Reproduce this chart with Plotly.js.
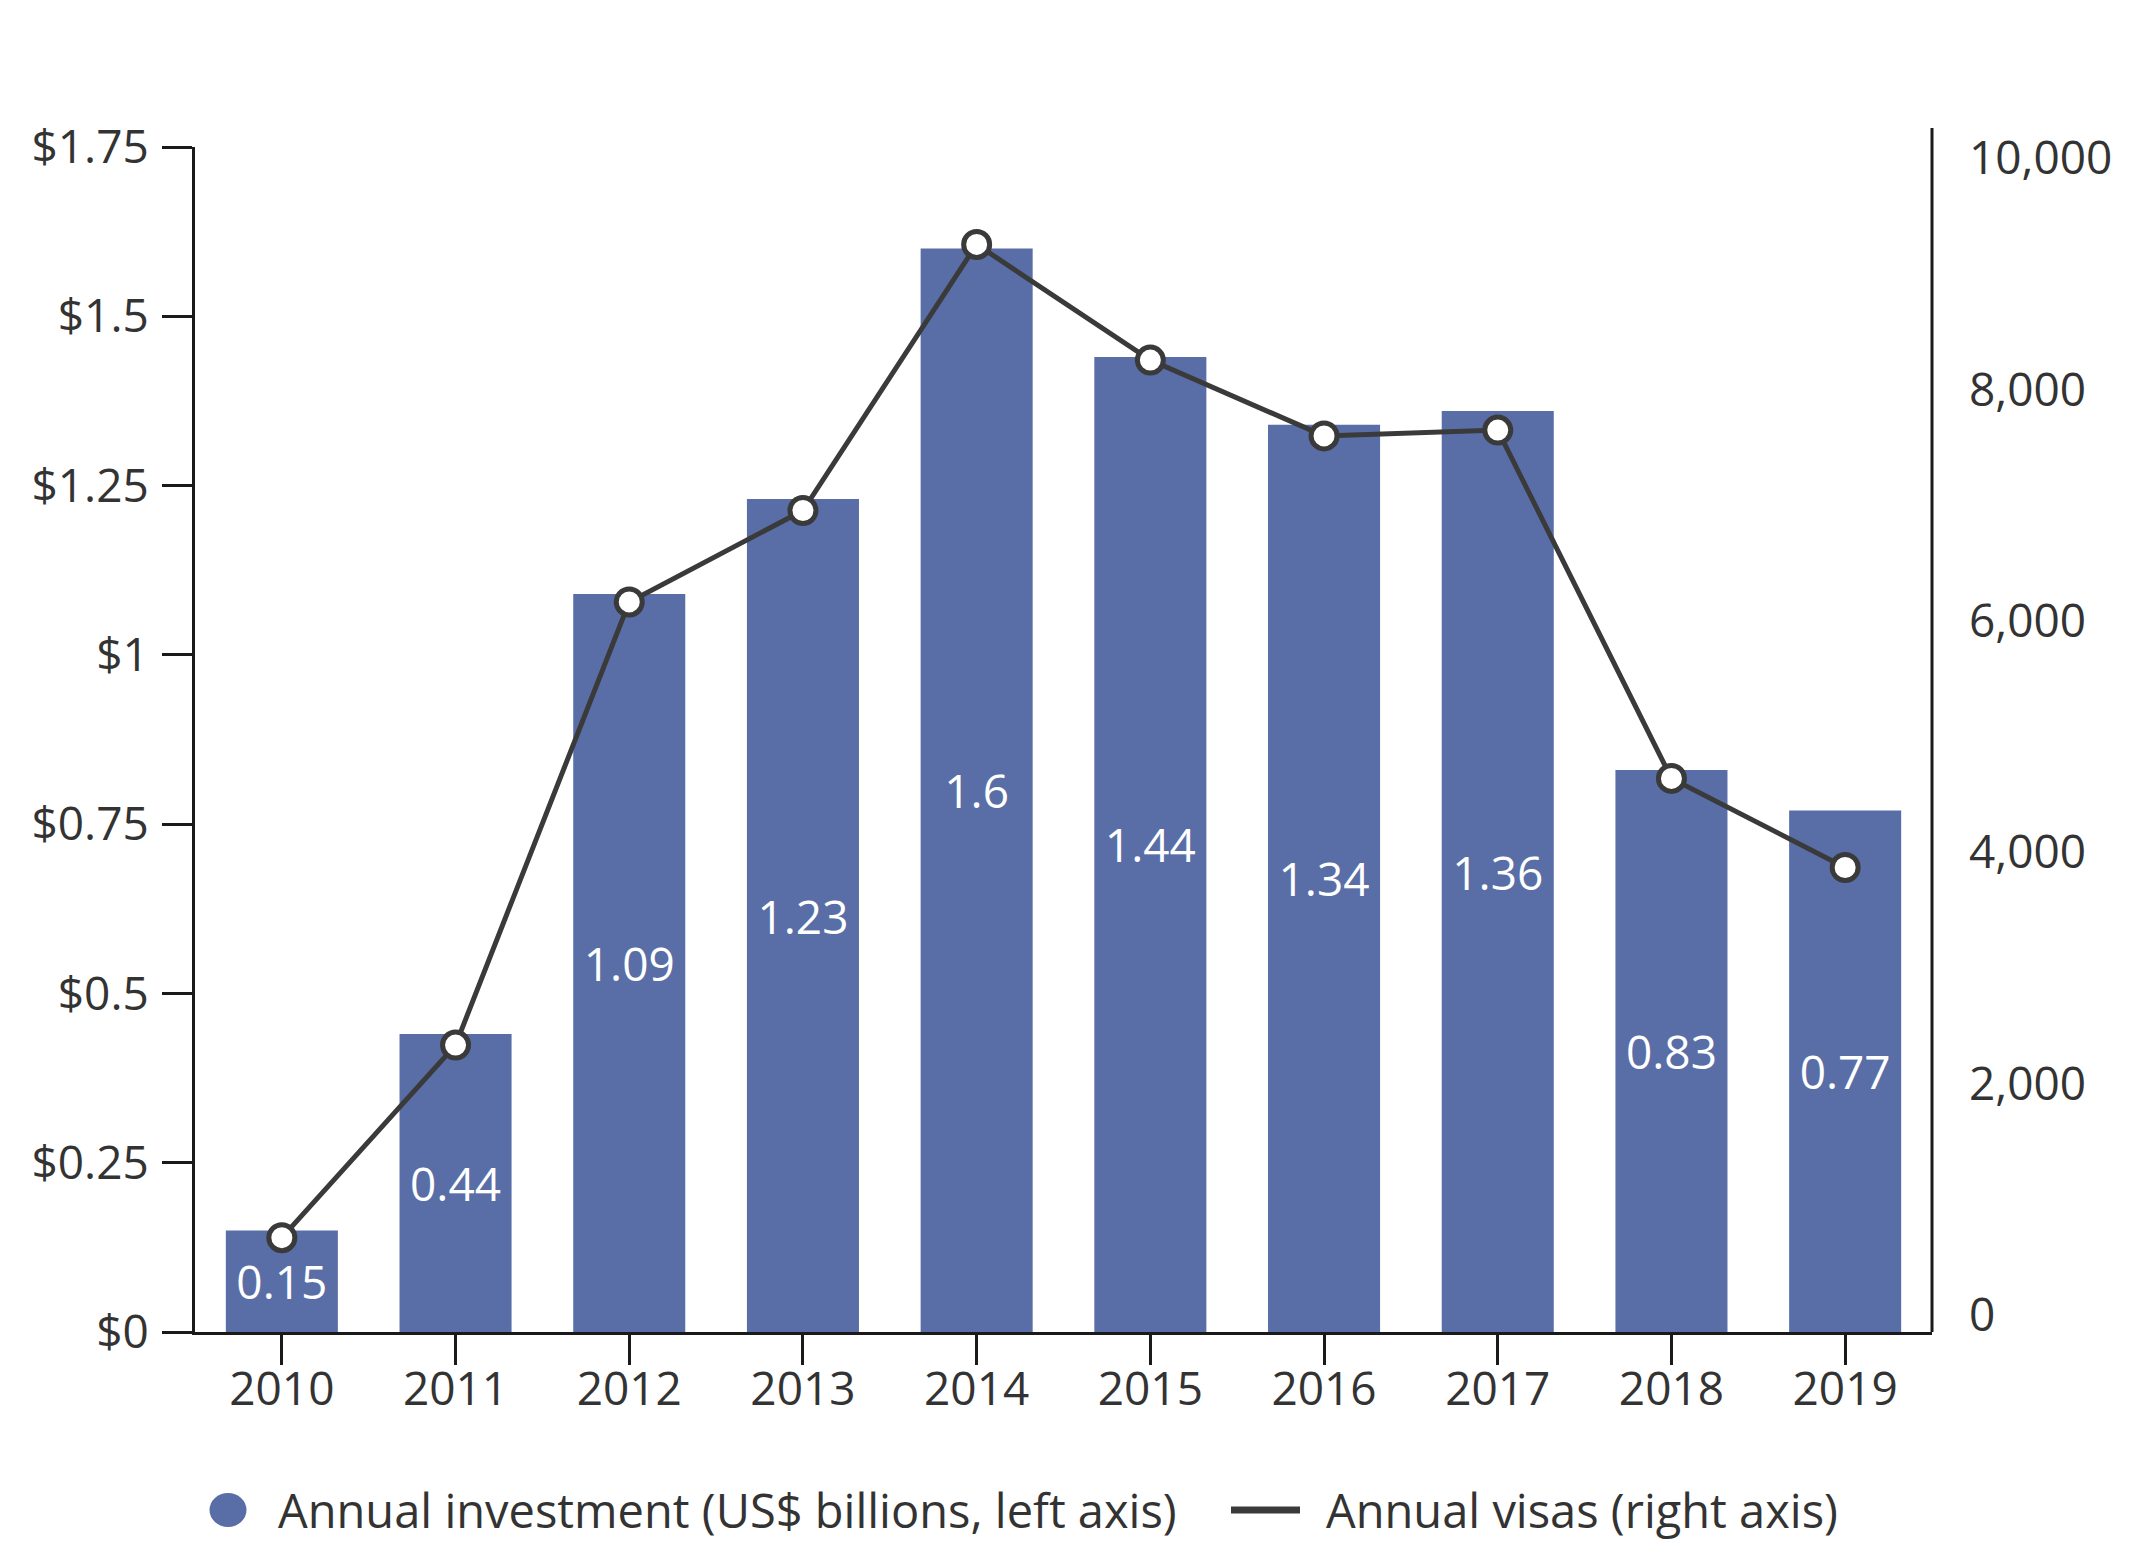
<!DOCTYPE html>
<html>
<head>
<meta charset="utf-8">
<script src="https://cdn.plot.ly/plotly-3.0.1.min.js"></script>
<style>html,body{margin:0;padding:0;background:#fff;}#chart{width:2156px;height:1562px;}</style>
</head>
<body>
<div id="chart"></div>
<script>
const years = ['2010','2011','2012','2013','2014','2015','2016','2017','2018','2019'];
const investment = [0.15, 0.44, 1.09, 1.23, 1.6, 1.44, 1.34, 1.36, 0.83, 0.77];
const investmentLabels = ['0.15','0.44','1.09','1.23','1.6','1.44','1.34','1.36','0.83','0.77'];
const visas = [815, 2480, 6310, 7100, 9400, 8400, 7745, 7795, 4785, 4015];
const leftTickVals = [0, 0.25, 0.5, 0.75, 1, 1.25, 1.5, 1.75];
const leftTickText = ['$0','$0.25','$0.5','$0.75','$1','$1.25','$1.5','$1.75'];
const rightTickVals = [0, 2000, 4000, 6000, 8000, 10000];
const rightTickText = ['0','2,000','4,000','6,000','8,000','10,000'];
const seriesNames = ['Annual investment (US$ billions, left axis)', 'Annual visas (right axis)'];

const BAR = '#596ea6';
const LINE = '#3a3a3a';
const AXIS = '#1a1a1a';
const TXT = '#333333';
const FONT = 'Open Sans, Noto Sans, sans-serif';

const W = 2156, H = 1562;
const M = {l: 195, r: 224, t: 147, b: 230};
const plotW = W - M.l - M.r, plotH = H - M.t - M.b;
// pixel -> paper helpers for legend placement
const px = v => (v - M.l) / plotW;
const py = v => (H - M.b - v) / plotH;

const traces = [
  {
    type: 'bar', x: years, y: investment, text: investmentLabels, name: seriesNames[0],
    textposition: 'inside', insidetextanchor: 'middle', textangle: 0,
    constraintext: 'none',
    textfont: {color: '#ffffff', size: 46, family: FONT},
    marker: {color: BAR}, showlegend: false, hoverinfo: 'none', cliponaxis: false
  },
  {
    type: 'scatter', mode: 'lines+markers', x: years, y: visas, yaxis: 'y2', name: seriesNames[1],
    line: {color: LINE, width: 5},
    marker: {size: 26, color: '#ffffff', line: {color: LINE, width: 5}},
    showlegend: false, hoverinfo: 'none', cliponaxis: false
  }
];

const legendY = 1510;
const layout = {
  width: W, height: H,
  margin: M,
  paper_bgcolor: '#ffffff', plot_bgcolor: '#ffffff',
  font: {family: FONT, size: 46, color: TXT},
  bargap: 0.355,
  showlegend: false,
  xaxis: {
    type: 'category', range: [-0.5, 9.5],
    showline: true, linecolor: AXIS, linewidth: 3,
    ticks: 'outside', ticklen: 30, tickwidth: 3, tickcolor: AXIS,
    ticklabelstandoff: -15,
    tickfont: {size: 46, color: TXT, family: FONT},
    showgrid: false, zeroline: false, fixedrange: true
  },
  yaxis: {
    range: [0, 1.75], tickvals: leftTickVals, ticktext: leftTickText,
    showline: true, linecolor: AXIS, linewidth: 3,
    ticks: 'outside', ticklen: 30, tickwidth: 3, tickcolor: AXIS,
    ticklabelstandoff: 4,
    tickfont: {size: 46, color: TXT, family: FONT},
    showgrid: false, zeroline: false, fixedrange: true
  },
  yaxis2: {
    overlaying: 'y', side: 'right', range: [0, 10242],
    tickvals: rightTickVals, ticktext: rightTickText,
    showline: false, ticks: '', ticklabelstandoff: 36, ticklabelshift: -17,
    tickfont: {size: 46, color: TXT, family: FONT},
    showgrid: false, zeroline: false, fixedrange: true
  },
  shapes: [
    {type: 'line', xref: 'paper', yref: 'paper', x0: 1, x1: 1, y0: 0, y1: py(128),
     line: {color: AXIS, width: 3}},
    // legend symbols
    {type: 'circle', xref: 'paper', yref: 'paper', layer: 'above',
     x0: px(209.5), x1: px(246.5), y0: py(legendY + 17), y1: py(legendY - 17),
     fillcolor: BAR, line: {width: 0}},
    {type: 'line', xref: 'paper', yref: 'paper', layer: 'above',
     x0: px(1231), x1: px(1300), y0: py(legendY), y1: py(legendY),
     line: {color: LINE, width: 7}}
  ],
  annotations: [
    {xref: 'paper', yref: 'paper', x: px(276), y: py(legendY), xanchor: 'left', yanchor: 'middle',
     text: seriesNames[0], showarrow: false, font: {size: 47, color: TXT, family: FONT}},
    {xref: 'paper', yref: 'paper', x: px(1324), y: py(legendY), xanchor: 'left', yanchor: 'middle',
     text: seriesNames[1], showarrow: false, font: {size: 47, color: TXT, family: FONT}}
  ]
};

Plotly.newPlot('chart', traces, layout, {displayModeBar: false, staticPlot: true});
</script>
</body>
</html>
